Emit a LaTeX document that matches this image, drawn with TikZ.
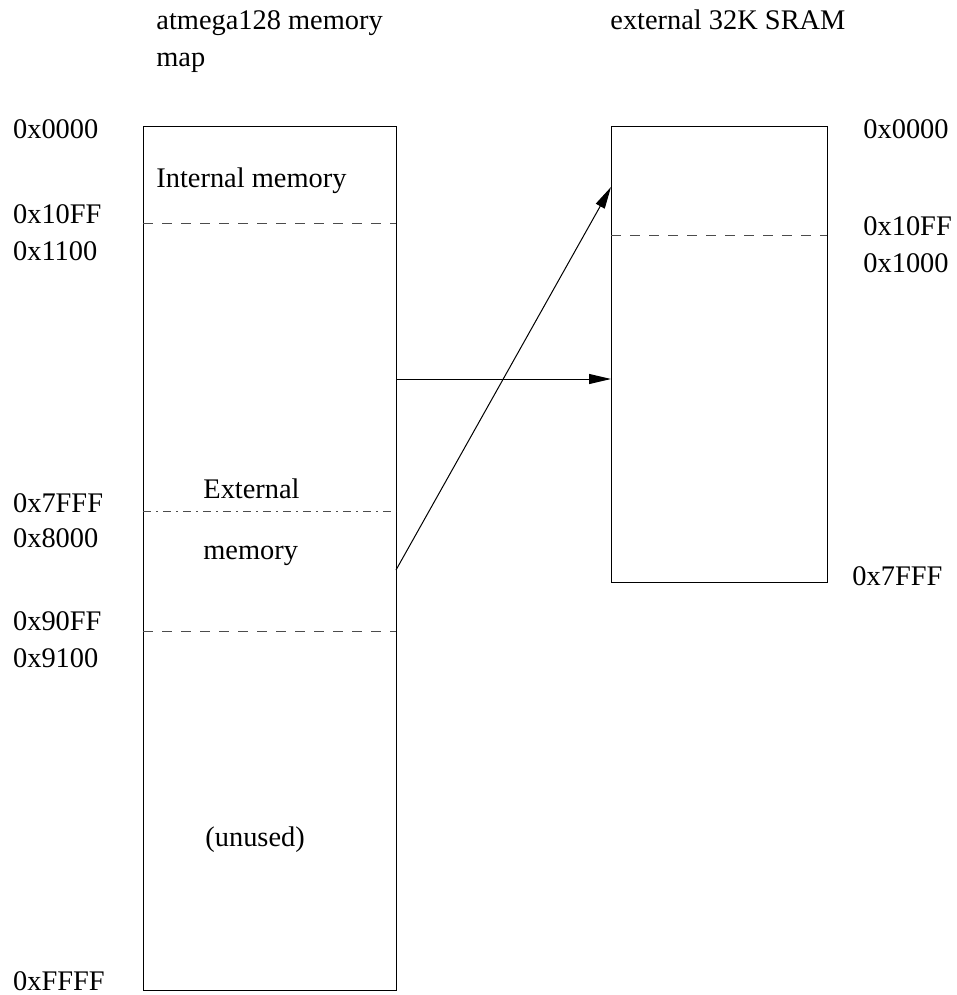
\documentclass[tikz,border=0pt]{standalone}
\usepackage{fontspec}
\setmainfont{Liberation Serif}
\usetikzlibrary{arrows.meta}
\begin{document}
\begin{tikzpicture}[x=0.5pt,y=-0.5pt,
  lbl/.style={anchor=base west, inner sep=0pt, font=\fontsize{14.2}{17}\selectfont},
  membox/.style={draw, line width=0.5pt, anchor=north west, inner sep=0pt, outer sep=0pt},
  dashline/.style={draw=black!70, line width=0.5pt, dash pattern=on 5pt off 4.5pt},
  dashdotline/.style={draw=black!70, line width=0.5pt, dash pattern=on 4pt off 2.5pt on 1pt off 2.5pt},
  link/.style={draw, line width=0.5pt, -{Triangle[length=11pt,width=5pt]}}]
\useasboundingbox (0,0) rectangle (957,995);
% boxes
\node[membox, minimum width=126.5pt, minimum height=431.5pt] (atm) at (143,127) {};
\node[membox, minimum width=108pt, minimum height=227.5pt] (sram) at (611,127) {};
% separators
\draw[dashline] (143,223) -- (396,223);
\draw[dashdotline] (143,511) -- (396,511);
\draw[dashline] (143,631) -- (396,631);
\draw[dashline] (611,235) -- (827,235);
% titles
\node[lbl] (t1) at (156,30) {atmega128 memory};
\node[lbl] (t2) at (156,67) {map};
\node[lbl] (t3) at (610,30) {external 32K SRAM};
% left addresses
\node[lbl] (l0) at (12.7,139) {0x0000};
\node[lbl] (l1) at (12.7,223) {0x10FF};
\node[lbl] (l2) at (12.7,260) {0x1100};
\node[lbl] (l3) at (12.7,512) {0x7FFF};
\node[lbl] (l4) at (12.7,547) {0x8000};
\node[lbl] (l5) at (12.7,630) {0x90FF};
\node[lbl] (l6) at (12.7,667) {0x9100};
\node[lbl] (l7) at (12.7,990) {0xFFFF};
% right addresses
\node[lbl] (r0) at (863,139) {0x0000};
\node[lbl] (r1) at (863,235) {0x10FF};
\node[lbl] (r2) at (863,272) {0x1000};
\node[lbl] (r3) at (852,585) {0x7FFF};
% region labels
\node[lbl] (int) at (156,187) {Internal memory};
\node[lbl] (ext1) at (203,498) {External};
\node[lbl] (ext2) at (203,559) {memory};
\node[lbl] (unu) at (205,846) {(unused)};
% arrows
\coordinate (a1) at (396,379);
\coordinate (a2) at (396,570);
\coordinate (b2) at (611,187);
\draw[link] (a1) -- (sram.west |- a1);
\draw[link] (a2) -- (b2);
\end{tikzpicture}
\end{document}
